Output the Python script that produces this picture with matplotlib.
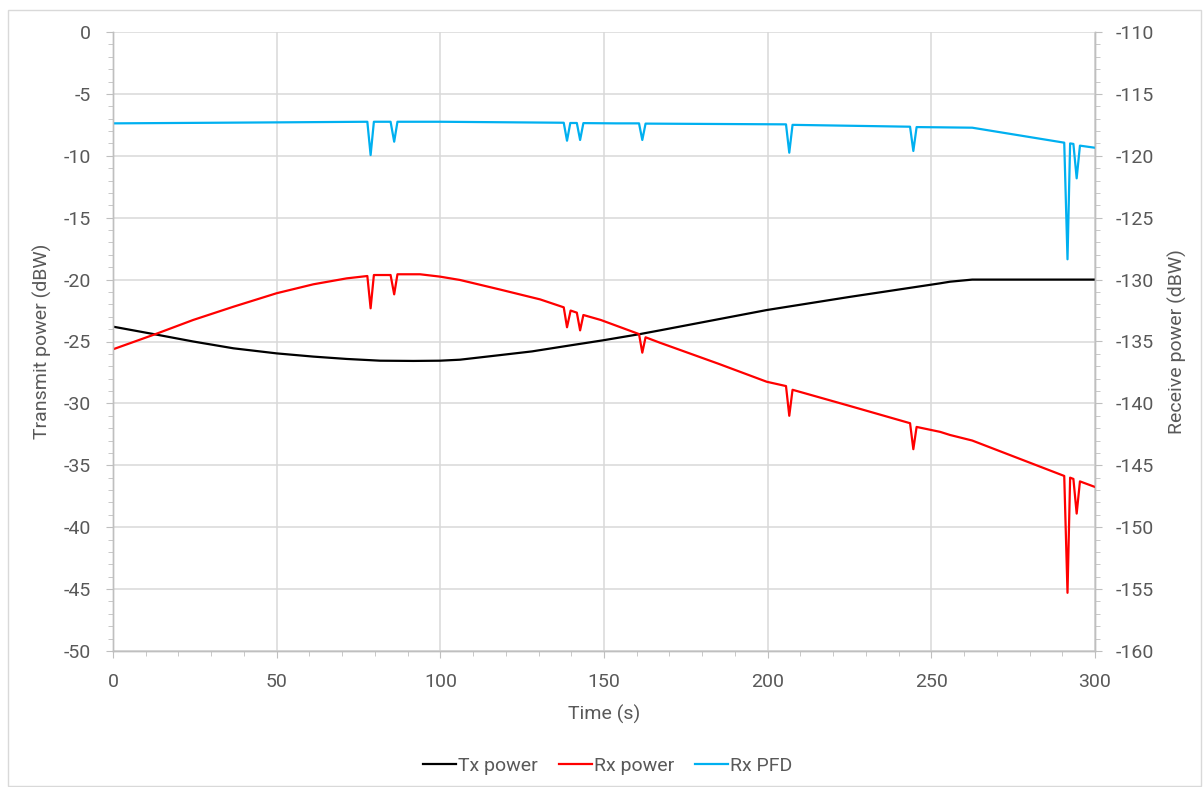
import matplotlib
matplotlib.use("Agg")
import matplotlib.pyplot as plt
from matplotlib.patches import Rectangle
from matplotlib.ticker import MultipleLocator

plt.rcParams['font.family'] = ['Roboto', 'DejaVu Sans']
plt.rcParams['axes.unicode_minus'] = False

# Tx power (dBW), left axis
tx_t = [0, 12.8, 24.5, 36.8, 50.0, 61.2, 71.4, 81.6, 91.8, 99.9, 106.0, 118.2, 128.0, 137.6,
        149.8, 161.0, 167.1, 199.7, 225.0, 252.7, 255.7, 262.5, 300]
tx_p = [-23.8, -24.42, -25.0, -25.55, -25.96, -26.22, -26.41, -26.55, -26.57, -26.55, -26.47,
        -26.1, -25.8, -25.4, -24.9, -24.4, -24.1, -22.46, -21.4, -20.3, -20.17, -20.0, -20.0]

# Rx power (dBW), right axis
rx_t = [0, 12.8, 24.5, 36.8, 50.0, 61.2, 71.4, 77.7, 78.7, 79.7, 84.8, 85.9, 86.9, 93.8,
        99.9, 106.0, 118.2, 130.5, 137.7, 138.7, 139.8, 141.7, 142.7, 143.7, 149.0, 160.7,
        161.7, 162.7, 167.1, 185.0, 199.7, 205.6, 206.6, 207.6, 225.0, 243.5, 244.5, 245.5,
        252.7, 255.7, 262.5, 290.6, 291.6, 292.4, 293.4, 294.4, 295.4, 300]
rx_p = [-135.63, -134.42, -133.26, -132.19, -131.1, -130.38, -129.9, -129.71, -132.32, -129.63,
        -129.63, -131.19, -129.57, -129.57, -129.76, -130.03, -130.8, -131.6, -132.24, -133.85,
        -132.5, -132.67, -134.1, -132.86, -133.26, -134.4, -135.9, -134.66, -135.1, -136.8,
        -138.25, -138.6, -141.0, -138.9, -140.2, -141.6, -143.7, -141.9, -142.3, -142.55,
        -143.0, -145.86, -155.3, -146.0, -146.1, -148.9, -146.3, -146.75]

# Rx PFD, right axis
pfd_t = [0, 50, 77.7, 78.7, 79.7, 84.8, 85.9, 86.9, 100, 137.7, 138.7, 139.7, 141.7, 142.7,
         143.7, 153.6, 160.7, 161.7, 162.7, 205.6, 206.6, 207.6, 243.5, 244.5, 245.5, 252.7,
         262.5, 290.6, 291.6, 292.4, 293.4, 294.4, 295.4, 300]
pfd_v = [-117.38, -117.3, -117.25, -119.94, -117.25, -117.25, -118.86, -117.25, -117.25,
         -117.33, -118.78, -117.35, -117.35, -118.72, -117.36, -117.38, -117.38, -118.72, -117.4,
         -117.46, -119.75, -117.5, -117.65, -119.61, -117.68, -117.7, -117.73, -118.94, -128.36,
         -119.0, -119.04, -121.82, -119.18, -119.35]

txt = '#595959'
grid = '#d9d9d9'
spine = '#bfbfbf'

fig = plt.figure(figsize=(12.03, 7.87), dpi=100)
fig.patches.append(Rectangle((7.5 / 1203, 1.5 / 787), 1193 / 1203, 776 / 787,
                             transform=fig.transFigure, fill=False, edgecolor=grid, lw=1))
ax = fig.add_axes([113 / 1203, 1 - 651 / 787, 982 / 1203, 619 / 787])
ax2 = ax.twinx()

l1, = ax.plot(tx_t, tx_p, color='black', lw=1.6, label='Tx power')
l2, = ax2.plot(rx_t, rx_p, color='#ff0000', lw=1.6, label='Rx power')
l3, = ax2.plot(pfd_t, pfd_v, color='#00b0f0', lw=1.6, label='Rx PFD')

ax.set_xlim(0, 300)
ax.set_ylim(-50, 0)
ax2.set_ylim(-160, -110)
ax.xaxis.set_major_locator(MultipleLocator(50))
ax.xaxis.set_minor_locator(MultipleLocator(10))
ax.yaxis.set_major_locator(MultipleLocator(5))
ax.yaxis.set_minor_locator(MultipleLocator(1))
ax2.yaxis.set_major_locator(MultipleLocator(5))
ax2.yaxis.set_minor_locator(MultipleLocator(1))

ax.grid(True, which='major', color=grid, lw=1.1)
ax.set_axisbelow(True)
for a in (ax, ax2):
    a.spines['top'].set_visible(False)
    for s in ('left', 'right', 'bottom'):
        a.spines[s].set_color(spine)
        a.spines[s].set_linewidth(1)
    a.tick_params(which='both', colors=spine, labelcolor=txt, labelsize=14)
    a.tick_params(which='major', length=5)
    a.tick_params(which='minor', length=3.6)
ax.tick_params(axis='x', pad=10.5)
ax.tick_params(axis='y', pad=11)
ax2.tick_params(axis='y', pad=9.5)

ax.set_xlabel('Time (s)', color=txt, fontsize=14, labelpad=10)
ax.set_ylabel('Transmit power (dBW)', color=txt, fontsize=14, labelpad=8)
ax2.set_ylabel('Receive power (dBW)', color=txt, fontsize=14, labelpad=10)

leg = fig.legend(handles=[l1, l2, l3], loc='center', bbox_to_anchor=(0.505, 1 - 766 / 787),
                 ncol=3, frameon=False, fontsize=14, handlelength=1.7, handletextpad=0.1,
                 columnspacing=1.1)
for t in leg.get_texts():
    t.set_color(txt)

fig.savefig('out.png', dpi=100)
